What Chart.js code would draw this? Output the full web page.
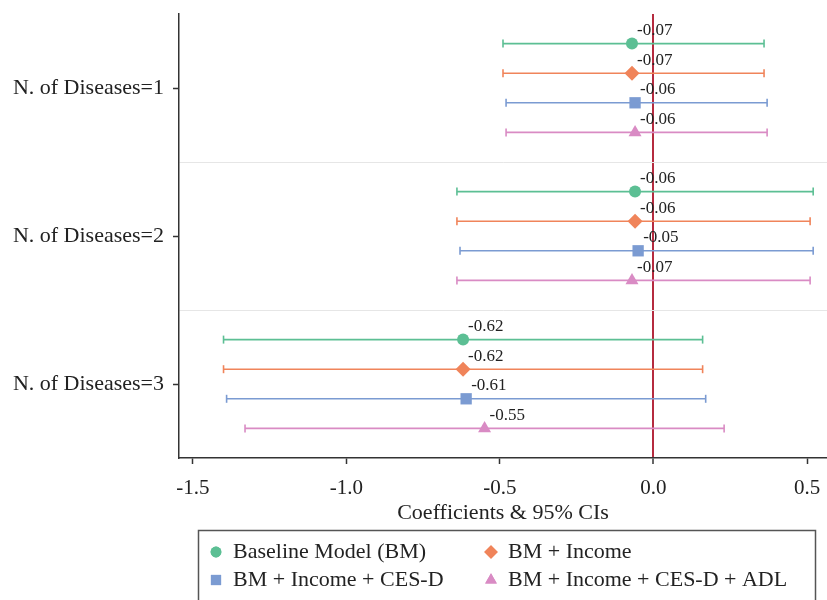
<!DOCTYPE html>
<html><head><meta charset="utf-8">
<script src="https://cdn.jsdelivr.net/npm/chart.js@4.4.0/dist/chart.umd.min.js"></script>
<style>html,body{margin:0;padding:0;background:#fff;}</style>
</head><body>
<canvas id="c" width="827" height="600"></canvas>
<script>
// ---- data ----
const categories = ['N. of Diseases=1', 'N. of Diseases=2', 'N. of Diseases=3'];
const seriesNames = ['Baseline Model (BM)', 'BM + Income', 'BM + Income + CES-D', 'BM + Income + CES-D + ADL'];
const bmEst  = [-0.07, -0.06, -0.62];
const bmLow  = [-0.49, -0.64, -1.40];
const bmHigh = [0.36, 0.52, 0.16];
const incEst  = [-0.07, -0.06, -0.62];
const incLow  = [-0.49, -0.64, -1.40];
const incHigh = [0.36, 0.51, 0.16];
const cesEst  = [-0.06, -0.05, -0.61];
const cesLow  = [-0.48, -0.63, -1.39];
const cesHigh = [0.37, 0.52, 0.17];
const adlEst  = [-0.06, -0.07, -0.55];
const adlLow  = [-0.48, -0.64, -1.33];
const adlHigh = [0.37, 0.51, 0.23];
const xTickValues = [-1.5, -1.0, -0.5, 0.0, 0.5];

// ---- styling ----
const FONT = "'Liberation Serif', 'Times New Roman', serif";
Chart.defaults.font.family = FONT;
Chart.defaults.color = '#222';
const colors = ['#5cbf94', '#f0845a', '#7b9bd2', '#d98bc4'];
const styles = ['circle', 'rectRot', 'rect', 'triangle'];
const radii = [6, 7.5, 8, 7.5];
const rowOffsets = [-0.3, -0.1, 0.1, 0.3];

const estimates = [bmEst, incEst, cesEst, adlEst];
const lows = [bmLow, incLow, cesLow, adlLow];
const highs = [bmHigh, incHigh, cesHigh, adlHigh];

const datasets = [];
seriesNames.forEach((name, s) => {
  datasets.push({
    label: name,
    isMarker: true,
    data: categories.map((c, i) => ({ x: estimates[s][i], y: i + 1 + rowOffsets[s] })),
    pointStyle: styles[s],
    pointRadius: radii[s],
    pointHoverRadius: radii[s],
    backgroundColor: colors[s],
    borderColor: colors[s],
    pointBorderWidth: 0,
    showLine: false,
    order: 0
  });
});
seriesNames.forEach((name, s) => {
  categories.forEach((c, i) => {
    const y = i + 1 + rowOffsets[s];
    datasets.push({
      label: name + ' CI ' + (i + 1),
      data: [{ x: lows[s][i], y: y }, { x: highs[s][i], y: y }],
      showLine: true,
      borderColor: colors[s],
      borderWidth: 1.6,
      pointStyle: 'line',
      rotation: 90,
      pointRadius: 4,
      pointHoverRadius: 4,
      pointBorderColor: colors[s],
      pointBorderWidth: 1.6,
      order: 1
    });
  });
});

const labelPlugin = {
  id: 'valueLabels',
  afterDatasetsDraw(chart) {
    const ctx = chart.ctx;
    ctx.save();
    ctx.font = '17px ' + FONT;
    ctx.fillStyle = '#222';
    ctx.textAlign = 'left';
    ctx.textBaseline = 'middle';
    chart.data.datasets.forEach((ds, di) => {
      if (!ds.isMarker) return;
      const meta = chart.getDatasetMeta(di);
      meta.data.forEach((el, i) => {
        ctx.fillText(ds.data[i].x.toFixed(2), el.x + 5, el.y - 13);
      });
    });
    ctx.restore();
  }
};

const legendPlugin = {
  id: 'boxLegend',
  afterDraw(chart) {
    const ctx = chart.ctx;
    ctx.save();
    ctx.strokeStyle = '#555';
    ctx.lineWidth = 1.5;
    ctx.strokeRect(198.5, 530.5, 617, 80);
    ctx.font = '22px ' + FONT;
    ctx.textBaseline = 'middle';
    ctx.textAlign = 'left';
    const cols = [216, 491];
    const rows = [552, 580];
    const markers = chart.data.datasets.filter(d => d.isMarker);
    markers.forEach((ds, k) => {
      const cx = cols[k % 2], cy = rows[Math.floor(k / 2)];
      ctx.fillStyle = ds.backgroundColor;
      ctx.strokeStyle = ds.backgroundColor;
      Chart.helpers.drawPoint(ctx, { pointStyle: ds.pointStyle, radius: ds.pointRadius * 0.9, borderWidth: 0, rotation: 0 }, cx, cy);
      ctx.fill();
      ctx.fillStyle = '#222';
      ctx.fillText(ds.label, cx + 17, cy);
    });
    ctx.restore();
  }
};

new Chart(document.getElementById('c'), {
  type: 'scatter',
  data: { datasets },
  options: {
    responsive: false,
    animation: false,
    devicePixelRatio: 1,
    layout: { autoPadding: false, padding: { top: 14, bottom: 72, left: 0, right: 0 } },
    plugins: { legend: { display: false }, tooltip: { enabled: false } },
    scales: {
      x: {
        type: 'linear',
        min: -1.545,
        max: 0.565,
        afterBuildTicks: s => { s.ticks = xTickValues.map(v => ({ value: v })); },
        afterFit: s => { s.height = 70; s.paddingLeft = 0; s.paddingRight = 0; },
        ticks: { callback: v => Number(v).toFixed(1), font: { size: 21 }, color: '#222', padding: 12, maxRotation: 0 },
        grid: {
          drawOnChartArea: true,
          color: c => (c.tick && c.tick.value === 0) ? '#b52b3f' : 'rgba(0,0,0,0)',
          lineWidth: c => (c.tick && c.tick.value === 0) ? 2 : 1,
          tickColor: '#333',
          tickLength: 6,
          tickWidth: 1.5
        },
        border: { color: '#333', width: 1.5 },
        title: { display: true, text: 'Coefficients & 95% CIs', font: { size: 22 }, color: '#222', padding: { top: 0, bottom: 2 } }
      },
      y: {
        type: 'linear',
        reverse: true,
        min: 0.5,
        max: 3.5,
        afterBuildTicks: s => { s.ticks = [0.5, 1, 1.5, 2, 2.5, 3, 3.5].map(v => ({ value: v })); },
        afterFit: s => { s.width = 179; s.paddingTop = 0; s.paddingBottom = 0; },
        ticks: {
          autoSkip: false,
          callback: v => Number.isInteger(v) ? categories[v - 1] : '',
          font: { size: 22 },
          color: '#222',
          padding: 9
        },
        grid: {
          color: c => (c.tick && (c.tick.value === 1.5 || c.tick.value === 2.5)) ? '#e6e6e6' : 'rgba(0,0,0,0)',
          tickColor: c => (c.tick && Number.isInteger(c.tick.value)) ? '#333' : 'rgba(0,0,0,0)',
          tickLength: 6,
          tickWidth: 1.5
        },
        border: { color: '#333', width: 1.5 }
      }
    }
  },
  plugins: [labelPlugin, legendPlugin]
});
</script>
</body></html>
